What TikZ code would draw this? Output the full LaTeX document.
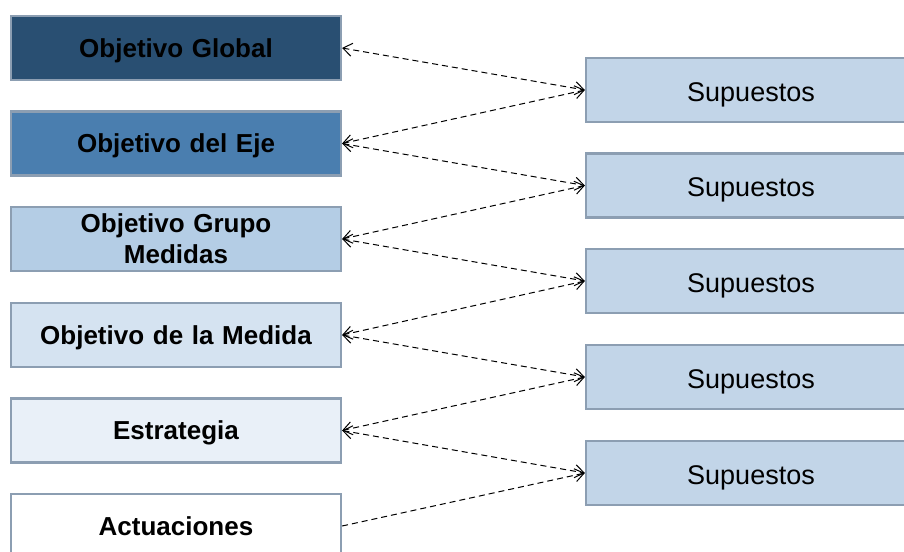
\documentclass[tikz,border=0pt]{standalone}
\usepackage{fontspec}
\setmainfont{Liberation Sans}
\usetikzlibrary{arrows.meta}
\definecolor{bordc}{HTML}{8C9EB2}
\definecolor{fillA}{HTML}{294F72}
\definecolor{fillB}{HTML}{4A7EAF}
\definecolor{fillC}{HTML}{B4CDE5}
\definecolor{fillD}{HTML}{D5E3F1}
\definecolor{fillE}{HTML}{E9F0F8}
\definecolor{fillR}{HTML}{C2D5E8}
\begin{document}
\begin{tikzpicture}[x=1pt,y=-1pt,
  basebox/.style={draw=bordc, line width=2.2pt, minimum width=330pt, minimum height=64pt,
    inner sep=0pt, align=center, text width=325pt},
  lbox/.style={basebox, font=\fontsize{26}{31}\selectfont\bfseries},
  oneline/.style={text height=20pt, text depth=2pt},
  rbox/.style={basebox, fill=fillR, font=\fontsize{27}{31}\selectfont, text height=24pt, text depth=2pt},
  conn/.style={dash pattern=on 6pt off 4pt, line width=1pt, black},
  tip/.tip={Straight Barb[length=9pt,width=13pt,line width=1pt]}]
\useasboundingbox (0,0) rectangle (904,551);
\clip (0,0) rectangle (904,551);
\fill[white] (0,0) rectangle (904,551);
% left boxes
\node[lbox, oneline, fill=fillA] (L1) at (176,48) {Objetivo Global};
\node[lbox, oneline, fill=fillB] (L2) at (176,143.5) {Objetivo del Eje};
\node[lbox, fill=fillC] (L3) at (176,239) {Objetivo Grupo\\Medidas};
\node[lbox, oneline, fill=fillD] (L4) at (176,335) {Objetivo de la Medida};
\node[lbox, oneline, fill=fillE] (L5) at (176,430.5) {Estrategia};
\node[lbox, oneline, fill=white] (L6) at (176,526) {Actuaciones};
% right boxes
\node[rbox] (R1) at (751,90) {Supuestos};
\node[rbox] (R2) at (751,185.5) {Supuestos};
\node[rbox] (R3) at (751,281) {Supuestos};
\node[rbox] (R4) at (751,377) {Supuestos};
\node[rbox] (R5) at (751,473) {Supuestos};
% connectors
\draw[conn, tip-tip] (L1.east) -- (R1.west);
\draw[conn, tip-tip] (L2.east) -- (R1.west);
\draw[conn, tip-tip] (L2.east) -- (R2.west);
\draw[conn, tip-tip] (L3.east) -- (R2.west);
\draw[conn, tip-tip] (L3.east) -- (R3.west);
\draw[conn, tip-tip] (L4.east) -- (R3.west);
\draw[conn, tip-tip] (L4.east) -- (R4.west);
\draw[conn, tip-tip] (L5.east) -- (R4.west);
\draw[conn, tip-tip] (L5.east) -- (R5.west);
\draw[conn, -tip] (L6.east) -- (R5.west);
\end{tikzpicture}
\end{document}
